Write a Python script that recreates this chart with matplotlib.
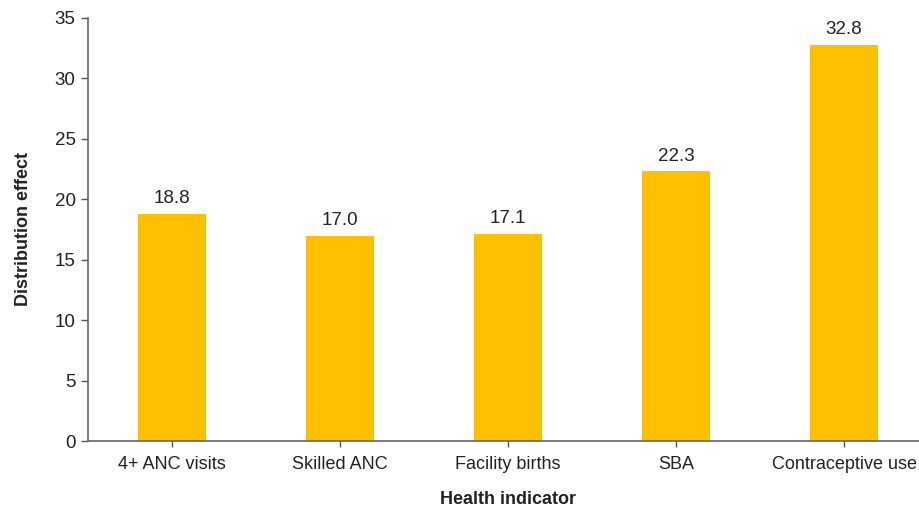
import matplotlib
matplotlib.use("Agg")
import matplotlib.pyplot as plt

categories = ["4+ ANC visits", "Skilled ANC", "Facility births", "SBA", "Contraceptive use"]
values = [18.8, 17.0, 17.1, 22.3, 32.8]
yticks = [0, 5, 10, 15, 20, 25, 30, 35]

plt.rcParams['font.family'] = ['Liberation Sans', 'DejaVu Sans']

fig = plt.figure(figsize=(9.19, 5.07), dpi=100)
ax = fig.add_axes([88/919, 66/507, 840/919, 423/507])

x = list(range(len(categories)))
bars = ax.bar(x, values, width=0.4, color="#FFC000", zorder=2)
for xi, v in zip(x, values):
    ax.annotate(f"{v:.1f}", (xi, v), xytext=(0, 5), textcoords="offset points",
                ha="center", va="bottom", fontsize=13.5, color="#222222")

ax.set_xlim(-0.5, 4.5)
ax.set_ylim(0, 35)
ax.set_yticks(yticks)
ax.set_xticks(x)
ax.set_xticklabels(categories)
ax.tick_params(axis="y", direction="out", length=5, width=1, colors="#555555", labelcolor="#222222", labelsize=13.5, pad=4)
ax.tick_params(axis="x", direction="inout", length=8, width=1, colors="#555555", labelcolor="#222222", labelsize=13, pad=7)
for s in ["top", "right"]:
    ax.spines[s].set_visible(False)
for s in ["left", "bottom"]:
    ax.spines[s].set_color("#666666")
    ax.spines[s].set_linewidth(1.2)

ax.set_ylabel("Distribution effect", fontsize=13, fontweight="bold", labelpad=16, color="#222222")
ax.set_xlabel("Health indicator", fontsize=13, fontweight="bold", labelpad=13, color="#222222")

fig.savefig("out.png", dpi=100)
